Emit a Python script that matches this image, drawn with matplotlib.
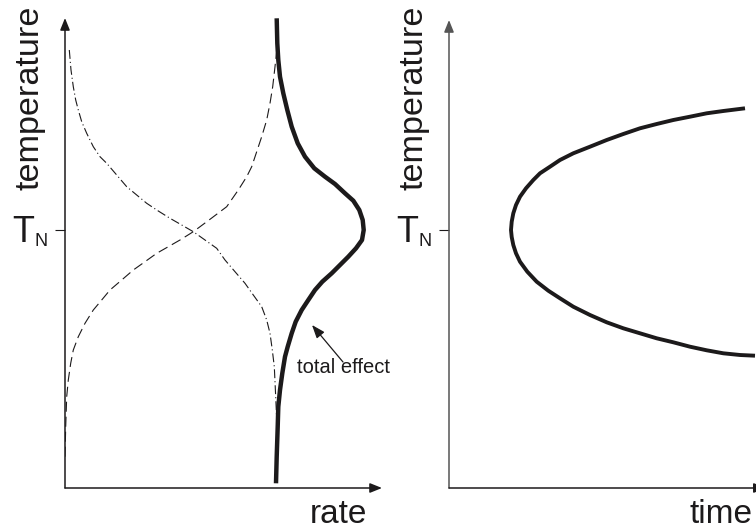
import matplotlib
matplotlib.use("Agg")
import matplotlib.pyplot as plt

plt.rcParams['font.family'] = ['Liberation Sans', 'DejaVu Sans']

W, H = 756, 529          # canvas size in pixels
INK = '#1c1a1b'

# ---- left panel: rate (x) versus temperature (y), arbitrary units ----
T_N = 258

# driving force term (dashed)
driving_rate = [0, 0.7, 1.7, 3.3, 5.7, 8.3, 13.3, 20, 28.3, 36.7, 45, 56.7, 68.3, 80, 91.7, 103.3,
                115, 128.3, 145, 161.7, 173.3, 181.7, 186.7, 191.7, 196.7, 201.7, 205, 207.7, 210,
                211.5]
driving_temp = [31.3, 61.3, 91.3, 108, 124.7, 138, 151.3, 164.7, 178, 188, 198, 208, 218, 226.3,
                234.7, 241.3, 248, 256.3, 268.7, 281.3, 298, 311.3, 321.3, 336.3, 351.3, 368, 384.7,
                401.3, 421.3, 435]

# atomic mobility term (dash-dot)
mobility_rate = [4.3, 6, 8.3, 10.7, 13.3, 16.7, 21.7, 28.3, 35, 41.7, 51.7, 61.7, 71.7, 81.7, 93.3,
                 105, 116.7, 128.3, 140, 151.7, 160, 170, 180, 188.3, 196.7, 201.7, 205, 207.3,
                 209.3, 210.7, 211.7]
mobility_temp = [438, 418, 401.3, 388, 378, 366.3, 354.7, 341.3, 331.3, 324.7, 313, 301.3, 293,
                 284.7, 277, 269.7, 263, 256.3, 248, 239.7, 228, 216.3, 204.7, 193, 181.3, 168,
                 154.7, 138, 121.3, 91.3, 68]

# total effect (thick solid)
total_rate = [211.7, 212.3, 213.3, 215, 218.3, 222.3, 226.7, 232.7, 240, 249.3, 260, 270, 280,
              288.3, 294.3, 297.7, 298.7, 297, 291, 283.3, 275, 266.7, 257.3, 250, 243.3, 236.7,
              230.7, 226.7, 222.7, 220, 217.3, 215, 213.3, 212.7, 211.7, 211]
total_temp = [469.7, 444.7, 428, 411.3, 394.7, 378, 361.3, 344.7, 331.3, 319.7, 311.3, 304, 294.7,
              287.3, 278, 268, 258, 248, 239.7, 231.3, 223, 214.7, 206.3, 198, 188, 178, 166.3,
              154.7, 141.3, 131.3, 114.7, 98, 81.3, 61.3, 31.3, 4.7]

# ---- right panel: time (x) versus temperature (y) ----
c_time = [296, 274.3, 257.7, 241, 224.3, 207.7, 191, 174.3, 157.7, 141, 124.3, 111, 101, 91, 84.3,
          77, 71, 67, 64.3, 62.7, 62, 62.7, 64.3, 67, 71, 78.3, 87.7, 99.3, 111, 124.3, 141, 157.7,
          174.3, 191, 207.7, 224.3, 241, 257.7, 274.3, 291, 306]
c_temp = [379.7, 377, 374.7, 371.3, 368, 364, 359.7, 354, 348, 341.3, 334.7, 328, 321.3, 314.7,
          308, 299.7, 291.3, 283, 274.7, 266.3, 258, 251, 243, 234.7, 226.3, 216.3, 206.3, 197.3,
          189.7, 181.3, 173, 165.7, 159.7, 154.7, 149.7, 145.7, 141.3, 137.7, 134.7, 133, 132.3]

fig = plt.figure(figsize=(W / 100, H / 100), dpi=100)


def px_axes(x0, x1, y_top, y_bot):
    return fig.add_axes([x0 / W, 1 - y_bot / H, (x1 - x0) / W, (y_bot - y_top) / H])


def fig_xy(px, py):
    return px / W, 1 - py / H


axL = px_axes(65, 382, 18, 488)
axL.set_xlim(0, 317)
axL.set_ylim(0, 470)
axR = px_axes(449, 756, 20, 488)
axR.set_xlim(0, 307)
axR.set_ylim(0, 468)

for ax in (axL, axR):
    for s in ax.spines.values():
        s.set_visible(False)
    ax.set_xticks([])
    ax.set_yticks([T_N])
    ax.set_yticklabels([''])
    ax.tick_params(axis='y', direction='out', length=7.2, width=0.8, color=INK)
    ax.patch.set_alpha(0)


def axis_arrow(ax, start, end, color=INK):
    ax.annotate('', xy=end, xytext=start, xycoords='axes fraction', textcoords='axes fraction',
                arrowprops=dict(arrowstyle='-|>,head_length=0.72,head_width=0.29',
                                lw=1.1, color=color, shrinkA=0, shrinkB=0))


axis_arrow(axL, (0, 0), (0, 1))
axis_arrow(axL, (0, 0), (1, 0))
axis_arrow(axR, (0, 0), (0, 1), color='#555555')
axis_arrow(axR, (0, 0), (1.032, 0))

# curves
axL.plot(driving_rate, driving_temp, color=INK, lw=0.8, linestyle=(0, (9, 4.5)))
axL.plot(mobility_rate, mobility_temp, color=INK, lw=0.8, linestyle=(0, (8, 2.7, 1, 2.7)))
axL.plot(total_rate, total_temp, color=INK, lw=3.2, solid_capstyle='butt',
         solid_joinstyle='round', clip_on=False)
axR.plot(c_time, c_temp, color=INK, lw=2.8, solid_capstyle='butt', solid_joinstyle='round')

# pointer to the total-effect curve
ARROW_TIP = (247, 163)
ARROW_TAIL = (278, 126)
axL.annotate('', xy=ARROW_TIP, xytext=ARROW_TAIL,
             arrowprops=dict(arrowstyle='-|>,head_length=0.8,head_width=0.3',
                             lw=0.9, color=INK, shrinkA=0, shrinkB=0))
fig.text(*fig_xy(297, 373), 'total effect', fontsize=14.5, color=INK, va='baseline', ha='left')

# axis titles
for x_base in (39, 423):
    fig.text(*fig_xy(x_base, 190), 'temperature', fontsize=24.6, color=INK, rotation=90,
             rotation_mode='anchor', ha='left', va='baseline')
for x_axis in (65, 449):
    fig.text(*fig_xy(x_axis - 53, 242), 'T', fontsize=26, color=INK, ha='left', va='baseline')
    fig.text(*fig_xy(x_axis - 31, 246), 'N', fontsize=13, color=INK, ha='left', va='baseline')

fig.text(*fig_xy(310, 523), 'rate', fontsize=24, color=INK, ha='left', va='baseline')
fig.text(*fig_xy(690, 523), 'time', fontsize=24, color=INK, ha='left', va='baseline')

fig.savefig('out.png', dpi=100, facecolor='white')
